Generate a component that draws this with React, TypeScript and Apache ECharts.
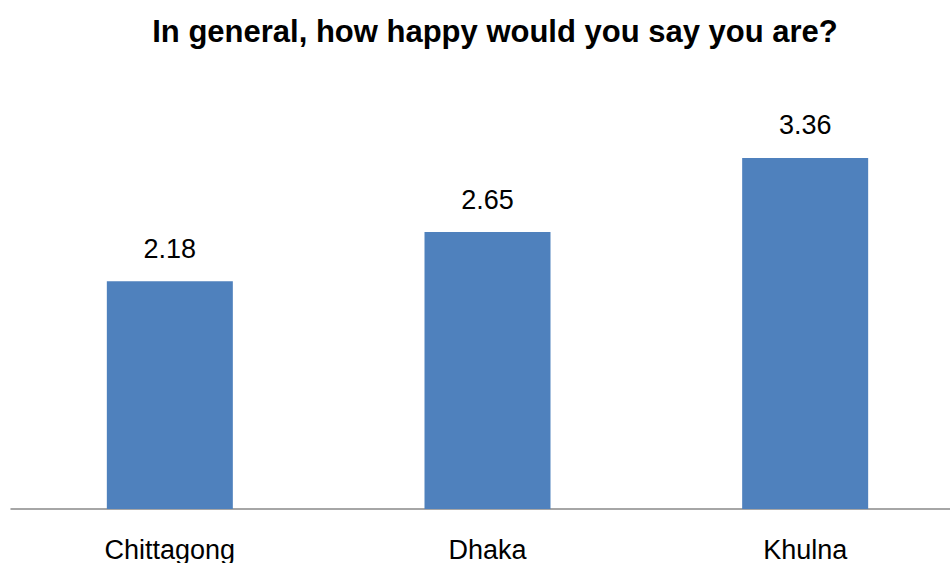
import React, { useEffect, useRef } from "react";
import * as echarts from "echarts";

const categories = ["Chittagong", "Dhaka", "Khulna"];
const values = [2.18, 2.65, 3.36];
const titleText = "In general, how happy would you say you are?";

export default function App() {
  const ref = useRef<HTMLDivElement>(null);
  useEffect(() => {
    document.body.style.margin = "0";
    document.body.style.overflow = "hidden";
    const chart = echarts.init(ref.current!, null, { renderer: "svg" });
    chart.setOption({
      animation: false,
      backgroundColor: "#ffffff",
      title: {
        text: titleText,
        left: 490,
        top: 11,
        textAlign: "center",
        textStyle: {
          fontFamily: "Liberation Sans, Arial, sans-serif",
          fontWeight: "bold",
          fontSize: 31,
          color: "#000000",
        },
      },
      grid: { left: 11, right: 0, top: 91, bottom: 54, containLabel: false },
      xAxis: {
        type: "category",
        data: categories,
        axisLine: { lineStyle: { color: "#898989", width: 1.5 } },
        axisTick: { show: false },
        axisLabel: {
          margin: 27,
          fontFamily: "Liberation Sans, Arial, sans-serif",
          fontSize: 27,
          color: "#000000",
        },
      },
      yAxis: {
        type: "value",
        min: 0,
        max: 4,
        show: false,
        splitLine: { show: false },
      },
      series: [
        {
          type: "bar",
          data: values,
          barWidth: 126,
          itemStyle: { color: "#4F81BD" },
          label: {
            show: true,
            position: "top",
            distance: 19,
            fontFamily: "Liberation Sans, Arial, sans-serif",
            fontSize: 27,
            color: "#000000",
          },
        },
      ],
    });
    return () => chart.dispose();
  }, []);
  return (
    <div
      ref={ref}
      style={{ position: "absolute", left: 0, top: 0, width: 964, height: 563 }}
    />
  );
}
